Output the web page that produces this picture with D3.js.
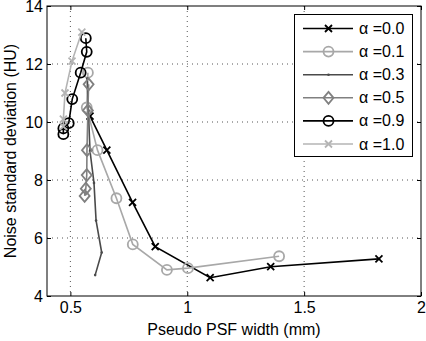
<!DOCTYPE html>
<html>
<head>
<meta charset="utf-8">
<script src="https://d3js.org/d3.v7.min.js"></script>
<style>
  body { margin:0; background:#fff; }
  text { font-family: "Liberation Sans", Arial, sans-serif; }
  .tick text { font-size:16px; }
  .lbl { font-size:16px; }
  .leg { font-size:16px; }
</style>
</head>
<body>
<script>
// data
var xTicks=[0.5,1,1.5,2];
var yTicks=[4,6,8,10,12,14];
var a00=[[0.584,10.2],[0.656,9.03],[0.766,7.23],[0.863,5.70],[1.098,4.63],[1.357,5.01],[1.82,5.28]];
var a01=[[0.575,11.7],[0.570,10.5],[0.616,9.03],[0.697,7.37],[0.767,5.78],[0.913,4.90],[1.003,4.96],[1.393,5.37]];
var a03=[[0.572,11.5],[0.577,10.4],[0.584,9.0],[0.601,7.9],[0.610,6.6],[0.634,5.5],[0.606,4.72]];
var a05=[[0.578,11.3],[0.575,10.4],[0.571,9.03],[0.570,8.17],[0.566,7.7],[0.561,7.45]];
var a09=[[0.566,12.89],[0.570,12.42],[0.544,11.70],[0.508,10.79],[0.493,9.96],[0.470,9.78],[0.470,9.58]];
var a10=[[0.549,13.1],[0.507,12.1],[0.477,11.0],[0.470,10.1],[0.470,9.85]];
var labels=["\u03b1 =0.0","\u03b1 =0.1","\u03b1 =0.3","\u03b1 =0.5","\u03b1 =0.9","\u03b1 =1.0"];

var series=[
  {d:a00,c:"#000",w:1.6,m:"x"},
  {d:a01,c:"#a8a8a8",w:1.6,m:"o"},
  {d:a03,c:"#4a4a4a",w:1.6,m:"dot"},
  {d:a05,c:"#808080",w:1.6,m:"d"},
  {d:a09,c:"#000",w:1.6,m:"o"},
  {d:a10,c:"#b4b4b4",w:1.6,m:"x"}
];

var W=426,H=341;
var L=47,R=421,T=6,B=296;
var svg=d3.select("body").append("svg").attr("width",W).attr("height",H);
var x=d3.scaleLinear().domain([0.4,2]).range([L,R]);
var y=d3.scaleLinear().domain([4,14]).range([B,T]);

// grid
var g=svg.append("g");
g.selectAll(".gx").data(xTicks.filter(function(t){return t<2;})).enter().append("line")
  .attr("x1",function(d){return x(d);}).attr("x2",function(d){return x(d);})
  .attr("y1",T).attr("y2",B).attr("stroke","#555").attr("stroke-width",1).attr("stroke-dasharray","1,4");
g.selectAll(".gy").data(yTicks.filter(function(t){return t>4&&t<14;})).enter().append("line")
  .attr("y1",function(d){return y(d);}).attr("y2",function(d){return y(d);})
  .attr("x1",L).attr("x2",R).attr("stroke","#555").attr("stroke-width",1).attr("stroke-dasharray","1,4");

// axes
svg.append("g").attr("transform","translate(0,"+B+")")
  .call(d3.axisBottom(x).tickValues(xTicks).tickSizeInner(-4).tickSizeOuter(0).tickPadding(6).tickFormat(d3.format("")));
svg.append("g").attr("transform","translate("+L+",0)")
  .call(d3.axisLeft(y).tickValues(yTicks).tickSizeInner(-4).tickSizeOuter(0).tickPadding(4).tickFormat(d3.format("")));
svg.append("g").attr("transform","translate(0,"+T+")")
  .call(d3.axisTop(x).tickValues(xTicks).tickSizeInner(-4).tickSizeOuter(0).tickFormat(""));
svg.append("g").attr("transform","translate("+R+",0)")
  .call(d3.axisRight(y).tickValues(yTicks).tickSizeInner(-4).tickSizeOuter(0).tickFormat(""));
svg.selectAll(".domain").remove();
svg.selectAll(".tick text").attr("fill","#000");
svg.append("rect").attr("x",L).attr("y",T).attr("width",R-L).attr("height",B-T)
  .attr("fill","none").attr("stroke","#000").attr("stroke-width",1);

svg.append("text").attr("class","lbl").attr("x",(L+R)/2).attr("y",335).attr("text-anchor","middle").text("Pseudo PSF width (mm)");
svg.append("text").attr("class","lbl").attr("transform","translate(16,"+((T+B)/2)+") rotate(-90)")
  .attr("text-anchor","middle").text("Noise standard deviation (HU)");

function marker(sel,s,px,py){
  if(s.m==="x"){
    sel.append("path").attr("d","M"+(px-3.5)+","+(py-3.5)+"L"+(px+3.5)+","+(py+3.5)+"M"+(px-3.5)+","+(py+3.5)+"L"+(px+3.5)+","+(py-3.5))
      .attr("stroke",s.c).attr("stroke-width",1.8);
  } else if(s.m==="o"){
    sel.append("circle").attr("cx",px).attr("cy",py).attr("r",5).attr("fill","none").attr("stroke",s.c).attr("stroke-width",1.8);
  } else if(s.m==="d"){
    sel.append("path").attr("d","M"+px+","+(py-6)+"L"+(px+5)+","+py+"L"+px+","+(py+6)+"L"+(px-5)+","+py+"Z")
      .attr("fill","none").attr("stroke",s.c).attr("stroke-width",1.8);
  } else {
    sel.append("circle").attr("cx",px).attr("cy",py).attr("r",1.3).attr("fill",s.c);
  }
}

var line=d3.line().x(function(d){return x(d[0]);}).y(function(d){return y(d[1]);});
var plot=svg.append("g");
series.forEach(function(s){
  plot.append("path").attr("d",line(s.d)).attr("fill","none").attr("stroke",s.c).attr("stroke-width",s.w);
  s.d.forEach(function(p){ marker(plot,s,x(p[0]),y(p[1])); });
});

// legend
var lg=svg.append("g");
lg.append("rect").attr("x",294.5).attr("y",14.5).attr("width",118).attr("height",142)
  .attr("fill","#fff").attr("stroke","#000").attr("stroke-width",1);
series.forEach(function(s,i){
  var ly=28.5+i*23.1;
  lg.append("line").attr("x1",303).attr("x2",353).attr("y1",ly).attr("y2",ly).attr("stroke",s.c).attr("stroke-width",s.w);
  marker(lg,s,328.5,ly);
  lg.append("text").attr("class","leg").attr("x",359).attr("y",ly+5.5).text(labels[i]);
});
</script>
</body>
</html>
